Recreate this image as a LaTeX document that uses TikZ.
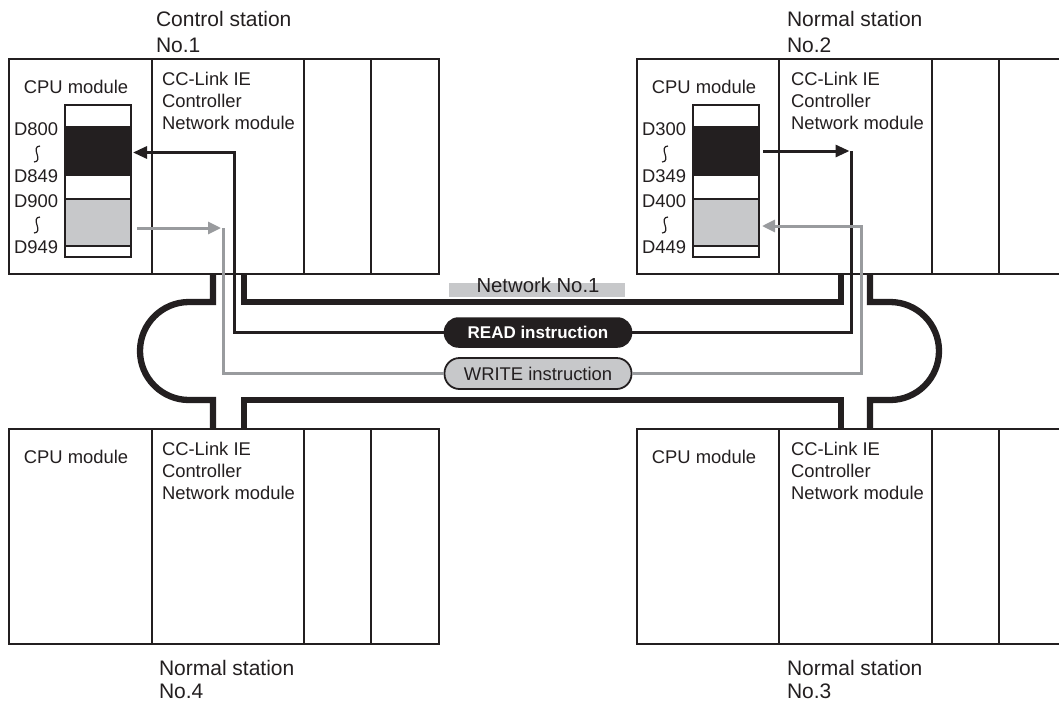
\documentclass[tikz,border=0pt]{standalone}
\usepackage{fontspec}
\setmainfont{Liberation Sans}
\usetikzlibrary{arrows.meta,calc}
\definecolor{ink}{HTML}{231F20}
\definecolor{cellgray}{HTML}{C7C8CA}
\definecolor{linegray}{HTML}{999B9E}
\tikzset{
  station/.style={draw=ink, line width=2.8pt, minimum width=430pt, minimum height=215pt, inner sep=0pt, outer sep=0pt},
  stationR/.style={station, minimum width=440pt},
  divider/.style={draw=ink, line width=2.8pt},
  net/.style={draw=ink, line width=6.3pt, line join=miter},
  rd/.style={draw=ink, line width=3pt, line join=miter},
  wr/.style={draw=linegray, line width=3pt, line join=miter},
  tipb/.style={-{Triangle[length=14pt,width=12pt]}},
  memout/.style={draw=ink, fill=white, line width=1.8pt, minimum width=66pt, minimum height=152pt, inner sep=0pt, outer sep=0pt},
  memcell/.style={draw=ink, line width=1.8pt, minimum width=66pt, inner sep=0pt, outer sep=0pt},
  txt/.style={inner sep=0pt, outer sep=0pt, text=ink, font=\fontsize{18.4pt}{22pt}\selectfont},
  head/.style={inner sep=0pt, outer sep=0pt, text=ink, anchor=base west, font=\fontsize{21pt}{25pt}\selectfont},
  squig/.style={draw=ink, line width=1.2pt},
  readpill/.style={draw=ink, fill=ink, line width=1.5pt, rounded corners=14pt, minimum width=187pt, minimum height=29pt, inner sep=0pt, text=white, font=\fontsize{17pt}{20pt}\selectfont\bfseries},
  writepill/.style={draw=ink, fill=cellgray, line width=1.8pt, rounded corners=15pt, minimum width=187pt, minimum height=31pt, inner sep=0pt, text=ink, font=\fontsize{18.4pt}{22pt}\selectfont},
}
\newcommand\mysquig[2]{\draw[squig] (#1+3,#2) .. controls (#1-1.5,#2) and (#1-1.5,#2+4) .. (#1,#2+8) .. controls (#1+1.5,#2+12) and (#1+1.5,#2+16) .. (#1-3,#2+16);}
\begin{document}
\begin{tikzpicture}[x=1pt,y=-1pt]
\useasboundingbox (0,0) rectangle (1059,704);
\clip (0,0) rectangle (1059,704);
\fill[white] (0,0) rectangle (1059,704);

% station boxes
\node[station] (s1) at (224,166.5) {};
\node[stationR] (s2) at (857,166.5) {};
\node[station] (s4) at (224,536.5) {};
\node[stationR] (s3) at (857,536.5) {};
\foreach \x in {152,304,371} {
  \draw[divider] (\x,59) -- (\x,274);
  \draw[divider] (\x,429) -- (\x,644);
}
\foreach \x in {779,932,999} {
  \draw[divider] (\x,59) -- (\x,274);
  \draw[divider] (\x,429) -- (\x,644);
}

% network loop
\draw[net] (213,274) |- (189,302) arc[start angle=90,end angle=270,radius=49pt] -| (213,429);
\draw[net] (244,274) |- (841,302) -- (841,274);
\draw[net] (244,429) |- (841,400) -- (841,429);
\draw[net] (870,274) |- (890,302) arc[start angle=90,end angle=-90,radius=49pt] -| (870,429);

% network label
\node[fill=cellgray, minimum width=176pt, minimum height=14pt, inner sep=0pt] (netbar) at (537,290) {};
\node[inner sep=0pt, text=ink, anchor=base, font=\fontsize{20.3pt}{24pt}\selectfont] (netlbl) at (538,292) {Network No.1};

% station headings
\node[head] (h1a) at (156,27) {Control station};
\node[head] (h1b) at (156,52) {No.1};
\node[head] (h2a) at (787,27) {Normal station};
\node[head] (h2b) at (787,52) {No.2};
\node[head] (h4a) at (159,675) {Normal station};
\node[head] (h4b) at (159,698) {No.4};
\node[head] (h3a) at (787,675) {Normal station};
\node[head] (h3b) at (787,698) {No.3};

% module texts
\foreach \cx/\nx/\y/\n in {76/162/0/a, 704/791/0/b, 76/162/370/c, 704/791/370/d} {
  \node[txt, anchor=base] (cpu\n) at (\cx,93+\y) {CPU module};
  \node[txt, anchor=base west] (cc\n) at (\nx,85+\y) {CC-Link IE};
  \node[txt, anchor=base west] (ct\n) at (\nx,107+\y) {Controller};
  \node[txt, anchor=base west] (nm\n) at (\nx,129+\y) {Network module};
}

% memory blocks
\node[memout] (m1) at (98,181) {};
\node[memcell, fill=ink, minimum height=48pt] (m1r) at (98,151) {};
\node[memcell, fill=cellgray, minimum height=47pt] (m1w) at (98,222.5) {};
\node[memout] (m2) at (726,181) {};
\node[memcell, fill=ink, minimum height=48pt] (m2r) at (726,151) {};
\node[memcell, fill=cellgray, minimum height=47pt] (m2w) at (726,222.5) {};

% device labels
\node[txt, anchor=base east] (d800) at (58,135) {D800};
\node[txt, anchor=base east] (d849) at (58,182) {D849};
\node[txt, anchor=base east] (d900) at (58,207) {D900};
\node[txt, anchor=base east] (d949) at (58,253) {D949};
\node[txt, anchor=base east] (d300) at (686,135) {D300};
\node[txt, anchor=base east] (d349) at (686,182) {D349};
\node[txt, anchor=base east] (d400) at (686,207) {D400};
\node[txt, anchor=base east] (d449) at (686,253) {D449};
\mysquig{37}{146}
\mysquig{37}{217}
\mysquig{665}{146}
\mysquig{665}{217}

% instruction pills
\node[readpill] (read) at (538,332.5) {READ instruction};
\node[writepill] (write) at (538,373.5) {WRITE instruction};

% READ flow
\coordinate (r1a) at (234,152.5);
\coordinate (r2a) at (851.5,151);
\draw[rd, tipb] (read.west) -| (r1a) -- ($(m1r.east |- r1a)+(2,0)$);
\draw[rd] (read.east) -| (r2a);
\draw[rd, tipb, shorten >=2pt] ($(m2r.east)+(4,0)$) -- (r2a);

% WRITE flow
\coordinate (w1a) at (223,228);
\coordinate (w2a) at (861,226);
\draw[wr, -{Triangle[length=13pt,width=12pt]}, shorten >=2pt] ($(m1w.east |- w1a)+(6,0)$) -- (w1a);
\draw[wr] (w1a) |- (write.west);
\draw[wr, -{Triangle[length=13pt,width=12pt]}] (write.east) -| (w2a) -- ($(m2w.east |- w2a)+(3,0)$);
\end{tikzpicture}
\end{document}
